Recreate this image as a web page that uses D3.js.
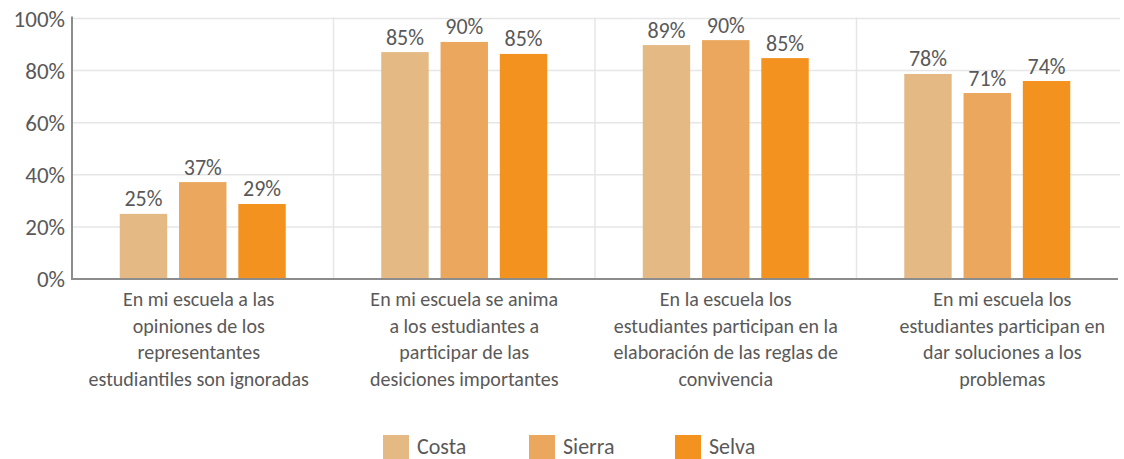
<!DOCTYPE html>
<html>
<head>
<meta charset="utf-8">
<script src="https://cdn.jsdelivr.net/npm/d3@7"></script>
<style>
  body { margin: 0; background: #fff; }
  svg text { font-family: Carlito, Calibri, Lato, sans-serif; fill: #595959; }
</style>
</head>
<body>
<svg id="chart" width="1124" height="459"></svg>
<script>
// categories (wrapped as in the original)
const categories = [
  ["En mi escuela a las", "opiniones de los", "representantes", "estudiantiles son ignoradas"],
  ["En mi escuela se anima", "a los estudiantes a", "participar de las", "desiciones importantes"],
  ["En la escuela los", "estudiantes participan en la", "elaboración de las reglas de", "convivencia"],
  ["En mi escuela los", "estudiantes participan en", "dar soluciones a los", "problemas"]
];
const series = ["Costa", "Sierra", "Selva"];
const colors = ["#e4b984", "#eba75d", "#f4921f"];

// bar heights as drawn, and the labels printed above them
const costa  = [25.0, 87.1, 89.8, 78.7];
const sierra = [37.2, 91.0, 91.7, 71.4];
const selva  = [28.8, 86.4, 84.8, 76.0];
const costaLabels  = ["25%", "85%", "89%", "78%"];
const sierraLabels = ["37%", "90%", "90%", "71%"];
const selvaLabels  = ["29%", "85%", "85%", "74%"];

const yTicks = [0, 20, 40, 60, 80, 100];

const values = [costa, sierra, selva];
const labels = [costaLabels, sierraLabels, selvaLabels];

const margin = { left: 72, right: 6, top: 18.5, bottom: 180 };
const plotBottom = 279;
const labelShift = [-4, 0, 0, 15];

const svg = d3.select("#chart");

const x0 = d3.scaleBand()
  .domain(d3.range(categories.length))
  .range([margin.left, 1118]);

const groupW = 166;
const x1 = d3.scaleBand()
  .domain(series)
  .range([-groupW / 2, groupW / 2])
  .paddingInner(0.2);

const y = d3.scaleLinear()
  .domain([0, 100])
  .range([plotBottom, margin.top]);

// horizontal grid
svg.append("g")
  .selectAll("line")
  .data(yTicks.slice(1))
  .join("line")
  .attr("x1", margin.left)
  .attr("x2", 1120)
  .attr("y1", d => y(d))
  .attr("y2", d => y(d))
  .attr("stroke", "#e6e6e6")
  .attr("stroke-width", 1.5);

// vertical separators between categories
svg.append("g")
  .selectAll("line")
  .data(d3.range(1, categories.length))
  .join("line")
  .attr("x1", d => x0(d))
  .attr("x2", d => x0(d))
  .attr("y1", y(100) - 1)
  .attr("y2", plotBottom)
  .attr("stroke", "#e6e6e6")
  .attr("stroke-width", 1.5);

// y axis labels
svg.append("g")
  .selectAll("text")
  .data(yTicks)
  .join("text")
  .attr("x", 65)
  .attr("y", d => y(d))
  .attr("dy", "0.36em")
  .attr("text-anchor", "end")
  .attr("font-size", 23)
  .text(d => d + "%");

// bars
const groups = svg.append("g")
  .selectAll("g")
  .data(series)
  .join("g")
  .attr("fill", (d, i) => colors[i]);

groups.selectAll("rect")
  .data((s, si) => values[si].map((v, ci) => ({ s, v, ci })))
  .join("rect")
  .attr("x", d => x0(d.ci) + x0.bandwidth() / 2 + x1(d.s))
  .attr("width", x1.bandwidth())
  .attr("y", d => y(d.v))
  .attr("height", d => plotBottom - y(d.v));

// value labels
groups.selectAll("text")
  .data((s, si) => values[si].map((v, ci) => ({ s, v, ci, t: labels[si][ci] })))
  .join("text")
  .attr("x", d => x0(d.ci) + x0.bandwidth() / 2 + x1(d.s) + x1.bandwidth() / 2)
  .attr("y", d => y(d.v) - 7.5)
  .attr("text-anchor", "middle")
  .attr("font-size", 22)
  .text(d => d.t);

// axes lines
svg.append("line")
  .attr("x1", margin.left).attr("x2", margin.left)
  .attr("y1", y(100) - 2).attr("y2", plotBottom + 1)
  .attr("stroke", "#8c8c8c").attr("stroke-width", 2);

svg.append("line")
  .attr("x1", margin.left - 1).attr("x2", 1118)
  .attr("y1", plotBottom).attr("y2", plotBottom)
  .attr("stroke", "#8c8c8c").attr("stroke-width", 2);

// category labels
const catG = svg.append("g")
  .selectAll("text")
  .data(categories)
  .join("text")
  .attr("text-anchor", "middle")
  .attr("font-size", 20)
  .attr("transform", (d, i) => `translate(${x0(i) + x0.bandwidth() / 2 + labelShift[i]},306)`);

catG.selectAll("tspan")
  .data(d => d)
  .join("tspan")
  .attr("x", 0)
  .attr("y", (d, i) => i * 26.5)
  .text(d => d);

// legend
const legend = svg.append("g")
  .selectAll("g")
  .data(series)
  .join("g")
  .attr("transform", (d, i) => `translate(${383 + i * 146},435)`);

legend.append("rect")
  .attr("width", 26)
  .attr("height", 24)
  .attr("fill", (d, i) => colors[i]);

legend.append("text")
  .attr("x", 34)
  .attr("y", 19)
  .attr("font-size", 22)
  .text(d => d);
</script>
</body>
</html>
